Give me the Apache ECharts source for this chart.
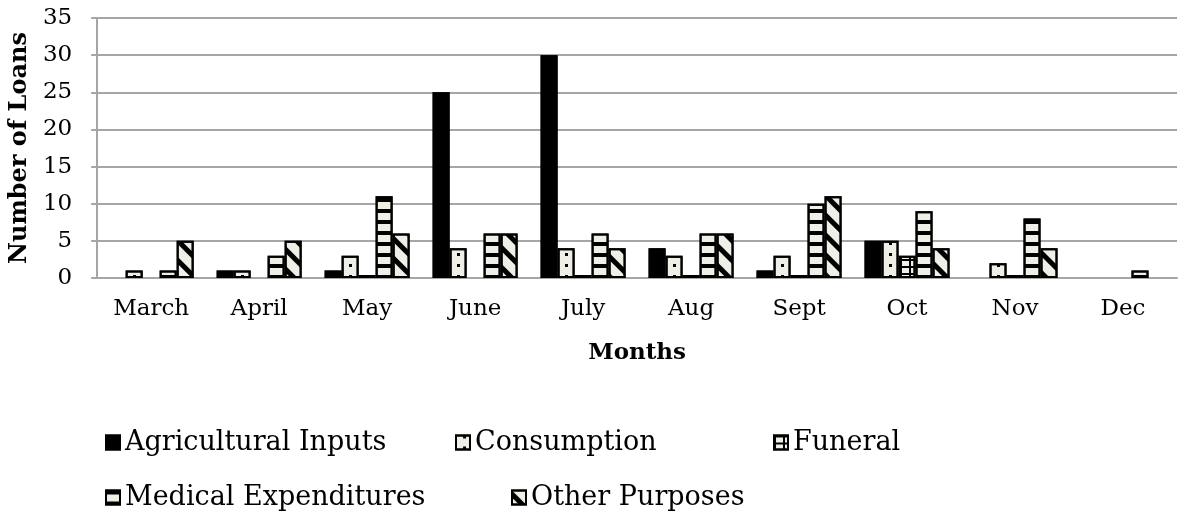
<!DOCTYPE html>
<html>
<head>
<meta charset="utf-8">
<script src="https://cdn.jsdelivr.net/npm/echarts@6/dist/echarts.min.js"></script>
<style>
html, body { margin: 0; padding: 0; background: #fff; }
#main { width: 1183px; height: 518px; }
</style>
</head>
<body>
<div id="main"></div>
<script>
var months = ['March', 'April', 'May', 'June', 'July', 'Aug', 'Sept', 'Oct', 'Nov', 'Dec'];
var agricultural = [0, 1, 1, 25, 30, 4, 1, 5, 0, 0];
var consumption = [1, 1, 3, 4, 4, 3, 3, 5, 2, 0];
var funeral = [0, 0, 0.4, 0, 0.4, 0.4, 0.4, 3, 0.4, 0];
var medical = [1, 3, 11, 6, 6, 6, 10, 9, 8, 1];
var other = [5, 5, 6, 6, 4, 6, 11, 4, 4, 0];
var yTicks = [0, 5, 10, 15, 20, 25, 30, 35];

var FONT = '"DejaVu Serif", "Liberation Serif", serif';
var CREAM = '#efefe7';

// zero counts are not drawn (Excel leaves them empty)
function skipZero(arr) {
    return arr.map(function (v) { return v === 0 ? '-' : v; });
}

function pattern(dx, dy, rot) {
    return {
        symbol: 'rect',
        symbolSize: 1,
        symbolKeepAspect: false,
        color: '#000',
        dashArrayX: dx,
        dashArrayY: dy,
        rotation: rot || 0
    };
}

function barSeries(name, values, fill, decal) {
    return {
        name: name,
        type: 'bar',
        data: skipZero(values),
        barWidth: 17,
        barGap: '0%',
        itemStyle: {
            color: fill,
            borderColor: '#000',
            borderWidth: 2,
            decal: decal
        }
    };
}

var myChart = echarts.init(document.getElementById('main'));

var legendText = { fontFamily: FONT, fontSize: 27, color: '#000' };
function legendAt(name, left, top) {
    return {
        data: [name],
        left: left,
        top: top,
        icon: 'rect',
        itemWidth: 14,
        itemHeight: 14,
        itemGap: 4,
        textStyle: legendText,
        selectedMode: false
    };
}

var option = {
    animation: false,
    aria: { enabled: true, decal: { show: true } },
    grid: { left: 97, right: 6, top: 18, height: 260 },
    legend: [
        legendAt('Agricultural Inputs', 100, 424),
        legendAt('Consumption', 450, 424),
        legendAt('Funeral', 768, 424),
        legendAt('Medical Expenditures', 100, 479),
        legendAt('Other Purposes', 506, 479)
    ],
    xAxis: {
        type: 'category',
        data: months,
        name: 'Months',
        nameLocation: 'middle',
        nameGap: 64,
        nameTextStyle: { fontFamily: FONT, fontSize: 23, fontWeight: 'bold', color: '#000' },
        axisLine: { lineStyle: { color: '#a6a6a6', width: 2 } },
        axisTick: { show: false },
        axisLabel: { fontFamily: FONT, fontSize: 23, color: '#000', margin: 20 }
    },
    yAxis: {
        type: 'value',
        min: yTicks[0],
        max: yTicks[yTicks.length - 1],
        interval: 5,
        name: 'Number of Loans',
        nameLocation: 'middle',
        nameRotate: 90,
        nameGap: 64,
        nameTextStyle: { fontFamily: FONT, fontSize: 24, fontWeight: 'bold', color: '#000' },
        axisLine: { show: true, lineStyle: { color: '#a6a6a6', width: 2 } },
        axisTick: { show: true, length: 6, lineStyle: { color: '#a6a6a6', width: 2 } },
        splitLine: { lineStyle: { color: '#a6a6a6', width: 2 } },
        axisLabel: { fontFamily: FONT, fontSize: 23, color: '#000', margin: 25 }
    },
    series: [
        barSeries('Agricultural Inputs', agricultural, '#000', pattern([1, 0], [4, 4])),
        barSeries('Consumption', consumption, CREAM, pattern([0, 7, 3, 8], [3, 8])),
        barSeries('Funeral', funeral, CREAM, pattern([[1, 0], [2, 7]], [2, 0, 5, 0])),
        barSeries('Medical Expenditures', medical, CREAM, pattern([1, 0], [4, 7])),
        barSeries('Other Purposes', other, CREAM, pattern([1, 0], [5, 9], Math.PI / 4))
    ]
};

myChart.setOption(option);
</script>
</body>
</html>
